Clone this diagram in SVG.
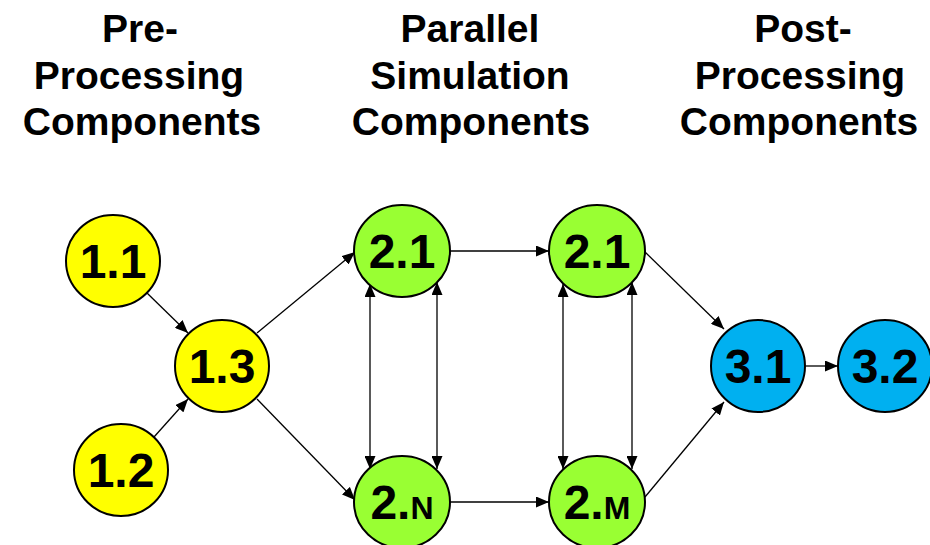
<svg xmlns="http://www.w3.org/2000/svg" width="930" height="545" viewBox="0 0 930 545">
<style>
.hdr{font-family:"Liberation Sans",Arial,sans-serif;font-weight:bold;font-size:39px;text-anchor:middle;fill:#000}
.lbl{font-family:"Liberation Sans",Arial,sans-serif;font-weight:bold;font-size:48px;text-anchor:middle;fill:#000}
.sm{font-size:32px}
.n{stroke:#000;stroke-width:2}
.y{fill:#FFFF00}
.g{fill:#99FF33}
.b{fill:#00B0F0}
.e{stroke:#000;stroke-width:1.3;fill:none;marker-end:url(#ah)}
.bi{marker-start:url(#ah)}
</style>
<defs>
<marker id="ah" markerUnits="userSpaceOnUse" markerWidth="13" markerHeight="11" refX="13" refY="5.5" orient="auto-start-reverse">
<path d="M0,0 L13,5.5 L0,11 z" fill="#000"/>
</marker>
</defs>
<rect width="930" height="545" fill="#fff"/>
<g id="headers">
<text class="hdr" x="140" y="42">Pre-</text>
<text class="hdr" x="139" y="89">Processing</text>
<text class="hdr" x="142" y="135">Components</text>
<text class="hdr" x="470" y="42">Parallel</text>
<text class="hdr" x="470" y="89">Simulation</text>
<text class="hdr" x="471" y="135">Components</text>
<text class="hdr" x="803" y="42">Post-</text>
<text class="hdr" x="800" y="89">Processing</text>
<text class="hdr" x="799" y="135">Components</text>
</g>
<g id="connectors">
<line class="e" x1="147" y1="293" x2="188" y2="333"/>
<line class="e" x1="154" y1="437" x2="188" y2="399"/>
<line class="e" x1="257" y1="333" x2="355" y2="252"/>
<line class="e" x1="257" y1="399" x2="355" y2="500"/>
<line class="e" x1="450" y1="251" x2="549" y2="251"/>
<line class="e" x1="450" y1="502" x2="549" y2="502"/>
<line class="e bi" x1="370" y1="284" x2="370" y2="469"/>
<line class="e bi" x1="437" y1="282" x2="437" y2="469"/>
<line class="e bi" x1="563" y1="284" x2="563" y2="469"/>
<line class="e bi" x1="632" y1="282" x2="632" y2="469"/>
<line class="e" x1="645" y1="252" x2="724" y2="329"/>
<line class="e" x1="645" y1="497" x2="724" y2="402"/>
<line class="e" x1="806" y1="366" x2="838" y2="366"/>
</g>
<g id="n1_1"><ellipse class="n y" cx="113" cy="261" rx="47" ry="46"/><text class="lbl" x="113" y="278">1.1</text></g>
<g id="n1_2"><ellipse class="n y" cx="121" cy="470" rx="47" ry="46"/><text class="lbl" x="121" y="487">1.2</text></g>
<g id="n1_3"><ellipse class="n y" cx="222" cy="366" rx="47" ry="46"/><text class="lbl" x="222" y="383">1.3</text></g>
<g id="n2_1a"><ellipse class="n g" cx="402" cy="251" rx="48" ry="46"/><text class="lbl" x="402" y="268">2.1</text></g>
<g id="n2_1b"><ellipse class="n g" cx="597" cy="251" rx="48" ry="46"/><text class="lbl" x="597" y="268">2.1</text></g>
<g id="n2_N"><ellipse class="n g" cx="402" cy="502" rx="48" ry="46"/><text class="lbl" x="402" y="519">2.<tspan class="sm">N</tspan></text></g>
<g id="n2_M"><ellipse class="n g" cx="597" cy="502" rx="48" ry="46"/><text class="lbl" x="597" y="519">2.<tspan class="sm">M</tspan></text></g>
<g id="n3_1"><ellipse class="n b" cx="758" cy="366" rx="47" ry="46"/><text class="lbl" x="758" y="383">3.1</text></g>
<g id="n3_2"><ellipse class="n b" cx="885" cy="366" rx="47" ry="46"/><text class="lbl" x="885" y="383">3.2</text></g>
</svg>
